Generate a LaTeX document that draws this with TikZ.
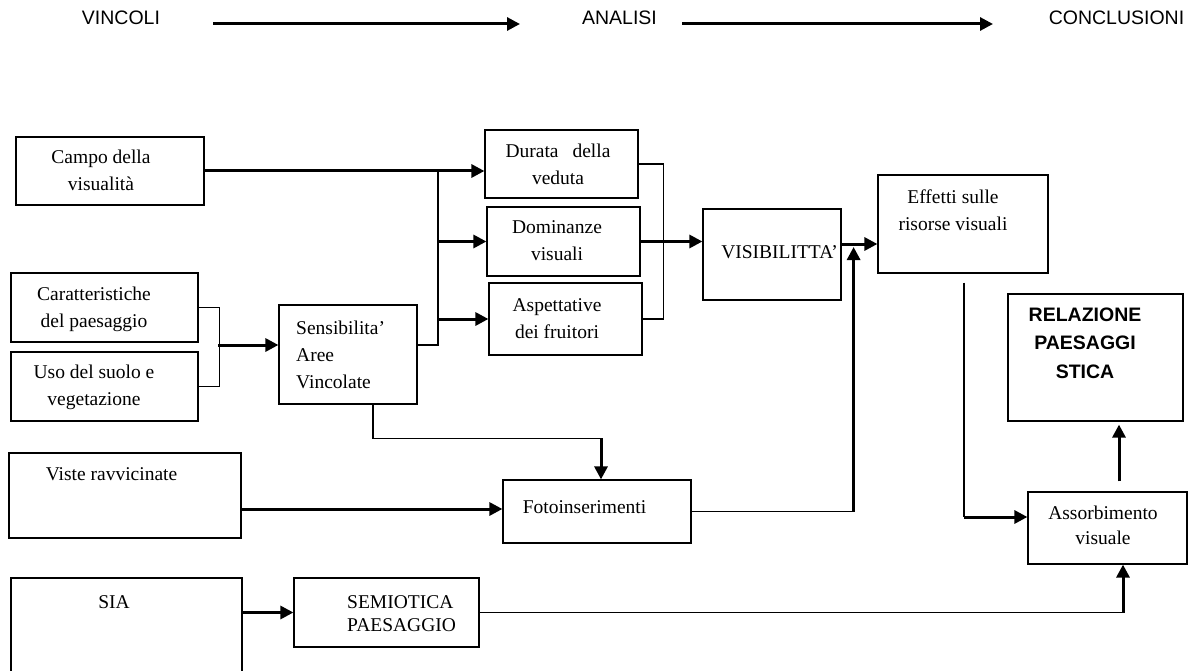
\documentclass[tikz,border=0pt]{standalone}
\usepackage{fontspec}
\setmainfont{Liberation Serif}
\newfontfamily\headfont{Liberation Sans}
\usetikzlibrary{positioning,arrows.meta,calc}

\begin{document}
\begin{tikzpicture}[x=1pt,y=-1pt]

	\tikzstyle{stdrect}=[draw, rectangle, line width=1.2pt, inner sep=0pt];
	\tikzstyle{boxtext}=[inner sep=0pt, align=center, font=\fontsize{19.5}{27}\selectfont];
	\tikzstyle{headtext}=[inner sep=0pt, font=\headfont\fontsize{19.5}{23}\selectfont];
	\tikzstyle{thinline}=[line width=1.2pt];
	\tikzstyle{thickline}=[line width=3pt];

	\useasboundingbox (0,0) rectangle (1196,671);

    \begin{scope}[>={Triangle[length=13pt,width=13pt]}]

    	% header
    	\node (vincoli) at (121,18) [headtext]{VINCOLI};
    	\node (analisi) at (619.5,18) [headtext]{ANALISI};
    	\node (conclusioni) at (1116.5,18) [headtext]{CONCLUSIONI};

    	% boxes
    	\node (campo) at (110,171) [stdrect, minimum width=188pt, minimum height=68pt]{};
    	\node (caratt) at (104.5,307.5) [stdrect, minimum width=187pt, minimum height=69pt]{};
    	\node (uso) at (104.5,386.5) [stdrect, minimum width=187pt, minimum height=69pt]{};
    	\node (sens) at (348,354.5) [stdrect, minimum width=138pt, minimum height=99pt]{};
    	\node (durata) at (561.5,164) [stdrect, minimum width=153pt, minimum height=68pt]{};
    	\node (domin) at (563.5,241.5) [stdrect, minimum width=153pt, minimum height=69pt]{};
    	\node (aspett) at (565.5,319) [stdrect, minimum width=153pt, minimum height=72pt]{};
    	\node (visib) at (772,254.5) [stdrect, minimum width=138pt, minimum height=91pt]{};
    	\node (effetti) at (963,224) [stdrect, minimum width=170pt, minimum height=98pt]{};
    	\node (relaz) at (1095.5,357.5) [stdrect, minimum width=175pt, minimum height=127pt]{};
    	\node (viste) at (125,495.5) [stdrect, minimum width=232pt, minimum height=85pt]{};
    	\node (foto) at (597,511.5) [stdrect, minimum width=188pt, minimum height=63pt]{};
    	\node (assorb) at (1107.5,528) [stdrect, minimum width=159pt, minimum height=72pt]{};
    	\node (sia) at (126.5,626.5) [stdrect, minimum width=231pt, minimum height=97pt]{};
    	\node (semio) at (386.5,612.5) [stdrect, minimum width=185pt, minimum height=69pt]{};

    	% texts
    	\node (campo_txt) at (101,170) [boxtext]{Campo della\\visualità};
    	\node (caratt_txt) at (94,309) [boxtext]{Caratteristiche\\del paesaggio};
    	\node (uso_txt) at (94,387) [boxtext]{Uso del suolo e\\vegetazione};
    	\node (sens_txt) at (296,355) [boxtext, anchor=west, align=left]{Sensibilita'\\Aree\\Vincolate};
    	\node (durata_txt) at (558,164.5) [boxtext]{Durata\hspace{14pt}della\\veduta};
    	\node (domin_txt) at (557,241) [boxtext]{Dominanze\\visuali};
    	\node (aspett_txt) at (557,319) [boxtext]{Aspettative\\dei fruitori};
    	\node (visib_txt) at (779.5,252) [boxtext]{VISIBILITTA'};
    	\node (effetti_txt) at (953,210) [boxtext]{Effetti sulle\\risorse visuali};
    	\node (relaz_txt) at (1085,343) [boxtext, font=\headfont\bfseries\fontsize{19.5}{28.5}\selectfont]{RELAZIONE\\PAESAGGI\\STICA};
    	\node (viste_txt) at (111.5,474) [boxtext]{Viste ravvicinate};
    	\node (foto_txt) at (584.5,507) [boxtext]{Fotoinserimenti};
    	\node (assorb_txt) at (1103,525.5) [boxtext, font=\fontsize{19.5}{25}\selectfont]{Assorbimento\\visuale};
    	\node (sia_txt) at (114,602) [boxtext]{SIA};
    	\node (semio_txt) at (347,613.5) [boxtext, anchor=west, align=left, font=\fontsize{19.5}{23}\selectfont]{SEMIOTICA\\PAESAGGIO};

    	% header arrows
    	\draw[thickline,->] ([shift={(92,6)}]vincoli.center) -- ([shift={(-99.5,6)}]analisi.center);
    	\draw[thickline,->] ([shift={(62.5,6)}]analisi.center) -- ([shift={(-123.5,6)}]conclusioni.center);

    	% left part
    	\coordinate (fork) at (438,171);
    	\draw[thickline,->] (campo.east) -- (campo.east -| durata.west);
    	\draw[thinline] ([shift={(0,-9.5)}]sens.east) -| (fork);
    	\draw[thickline,->] (fork |- domin.west) -- (domin.west);
    	\draw[thickline,->] (fork |- aspett.west) -- (aspett.west);
    	\draw[thinline] (caratt.east) -- ++(21,0) |- (uso.east);
    	\draw[thickline,->] ([shift={(-60,-9.5)}]sens.west) -- ([shift={(0,-9.5)}]sens.west);

    	% middle
    	\draw[thinline] (durata.east) -- ++(25,0) |- (aspett.east);
    	\draw[thickline,->] (domin.east) -- (domin.east -| visib.west);
    	\draw[thickline,->] ([shift={(0,-10.5)}]visib.east) coordinate (vis_out) -- (vis_out -| effetti.west);

    	% bottom
    	\draw[thickline,->] ([shift={(0,-2.5)}]foto.west -| viste.east) -- ([shift={(0,-2.5)}]foto.west);
    	\draw[thinline] ([shift={(25,0)}]sens.south) |- ($(foto.north)+(4,-41)$) coordinate (foto_in);
    	\draw[thickline,->] (foto_in) -- (foto_in |- foto.north);
    	\draw[thinline] (foto.east) -- ++(162,0) coordinate (foto_turn);
    	\draw[thickline,->] (foto_turn) -- ($(foto_turn |- vis_out)+(0,3)$);
    	\draw[thickline,->] (semio.west -| sia.east) -- (semio.west);

    	% right part
    	\coordinate (eff_drop) at ([shift={(1,9)}]effetti.south);
    	\coordinate (assorb_in) at ([shift={(0,-11)}]assorb.west);
    	\draw[thinline] (eff_drop) -- (eff_drop |- assorb_in);
    	\draw[thickline,->] (eff_drop |- assorb_in) -- (assorb_in);
    	\draw[thickline,->] ([shift={(11.5,-10)}]assorb.north) -- ($(assorb.north |- relaz.south)+(11.5,3)$);
    	\coordinate (semio_turn) at ($(semio.east -| assorb.south)+(15.5,0)$);
    	\draw[thinline] (semio.east) -- (semio_turn);
    	\draw[thickline,->] (semio_turn) -- (semio_turn |- assorb.south);

    \end{scope}
\end{tikzpicture}
\end{document}
